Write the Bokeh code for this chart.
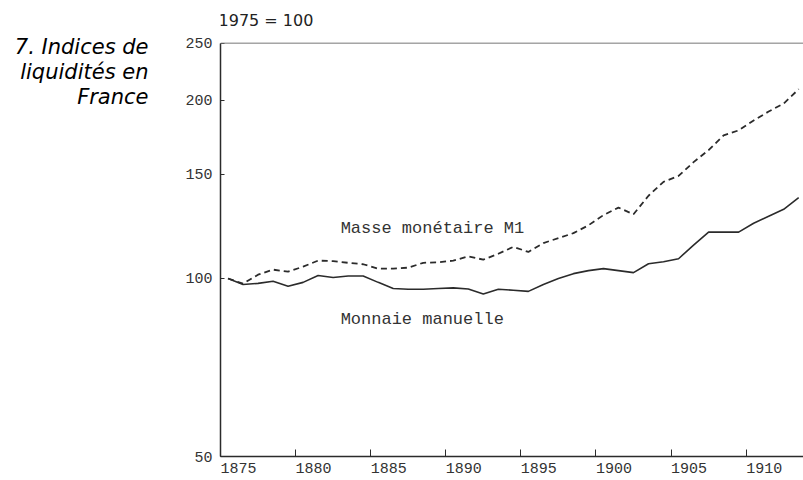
from bokeh.plotting import figure
from bokeh.layouts import row
from bokeh.models import FixedTicker, NumeralTickFormatter, Span, Label, Range1d
from bokeh.embed import file_html
from bokeh.resources import INLINE

years = list(range(1875, 1914))

masse_m1 = [100.0, 98.0, 101.5, 103.5, 102.7, 104.7, 107.2, 107.0, 106.3, 105.7,
            103.9, 103.9, 104.3, 106.3, 106.5, 107.2, 109.0, 107.6, 110.1, 113.1,
            110.9, 114.8, 117.0, 119.3, 123.0, 128.0, 131.8, 128.4, 138.0, 145.7,
            149.1, 157.3, 164.8, 174.6, 178.0, 185.0, 191.6, 197.6, 209.0]

monnaie_manuelle = [100.0, 97.7, 98.1, 98.9, 97.0, 98.5, 101.2, 100.4, 101.0, 101.0,
                    98.5, 96.2, 95.9, 95.9, 96.2, 96.4, 96.0, 94.1, 95.9, 95.5,
                    95.1, 97.7, 100.0, 101.9, 103.1, 103.9, 103.1, 102.3, 105.9, 106.7,
                    108.0, 113.9, 119.8, 119.8, 119.8, 124.0, 127.4, 130.9, 137.0]

x_ticks = [1875, 1880, 1885, 1890, 1895, 1900, 1905, 1910]
y_ticks = [50, 100, 150, 200, 250]
title_lines = ["7. Indices de", "liquidités en", "France"]

# annual values plotted at mid-year
xs = [y + 0.5 for y in years]

ink = "#2b2b2b"
NB = "\u00a0"

TOP = 10      # frame top (px); the axis itself spans 50..250
BOTTOM = 19

# ---- left panel holding the chart title (frame aligned with main frame) ----
side = figure(width=150, height=480, x_range=Range1d(0, 150),
              y_range=Range1d(480 - BOTTOM, TOP),
              output_backend="svg", toolbar_location=None,
              x_axis_location=None, y_axis_location=None,
              min_border_left=0, min_border_right=0,
              min_border_top=TOP, min_border_bottom=BOTTOM)
side.outline_line_color = None
side.grid.visible = False
for txt, yb in zip(title_lines, (47, 72, 97)):
    side.add_layout(Label(x=148, y=yb, text=txt,
                          text_font="DejaVu Sans", text_font_size="21px",
                          text_font_style="italic", text_color="#000000",
                          text_baseline="alphabetic", text_align="right"))

# ---- main chart ----
p = figure(width=653, height=480, y_axis_type="log",
           x_range=(1875, 1913.82), y_range=(50, 283.9),
           output_backend="svg", toolbar_location=None,
           min_border_left=70, min_border_top=TOP,
           min_border_bottom=BOTTOM, min_border_right=0)

p.outline_line_color = None
p.grid.visible = False
p.background_fill_color = "white"

p.xaxis.ticker = FixedTicker(ticks=x_ticks)
p.xaxis.major_label_overrides = {t: NB * 4 + str(t) for t in x_ticks}
p.yaxis.ticker = FixedTicker(ticks=y_ticks)
p.yaxis.formatter = NumeralTickFormatter(format="0")
p.yaxis.bounds = (50, 250)
for ax in (p.xaxis, p.yaxis):
    ax.axis_line_color = ink
    ax.axis_line_width = 1.5
    ax.major_tick_line_color = ink
    ax.major_tick_out = 0
    ax.minor_tick_line_color = None
    ax.major_label_text_font = "Liberation Mono"
    ax.major_label_text_color = "#333333"
p.xaxis.major_tick_in = 7
p.xaxis.major_label_text_font_size = "15px"
p.xaxis.major_label_text_line_height = 0.8
p.xaxis.major_label_standoff = 4
p.yaxis.major_tick_in = 4
p.yaxis.major_label_text_font_size = "15px"
p.yaxis.major_label_standoff = 8

# top frame line
p.add_layout(Span(location=250, dimension="width", line_color="#777777", line_width=1))

# series
p.line(xs, masse_m1, line_color=ink, line_width=1.8, line_dash="6 4")
p.line(xs, monnaie_manuelle, line_color=ink, line_width=1.6)

# unit note
p.add_layout(Label(x=1874.87, y=273.1, text="1975 = 100",
                   text_font="DejaVu Sans", text_font_size="16px",
                   text_color="#222222", text_baseline="alphabetic", text_align="left"))

# series labels
p.add_layout(Label(x=1883.0, y=121.7, text="Masse monétaire M1",
                   text_font="Liberation Mono", text_font_size="17px",
                   text_color="#333333", text_baseline="middle", text_align="left"))
p.add_layout(Label(x=1883.0, y=85.1, text="Monnaie manuelle",
                   text_font="Liberation Mono", text_font_size="17px",
                   text_color="#333333", text_baseline="middle", text_align="left"))

layout = row(side, p)
open("out.html", "w").write(file_html(layout, INLINE))
